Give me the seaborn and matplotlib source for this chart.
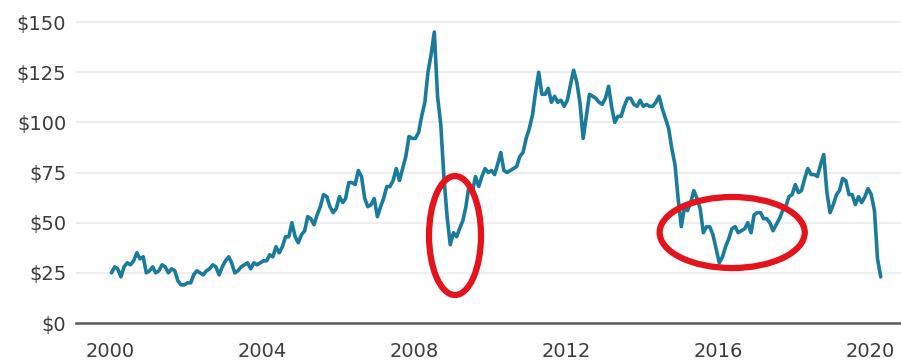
import matplotlib
matplotlib.use("Agg")
import matplotlib.pyplot as plt
import matplotlib.dates as mdates
from matplotlib.patches import Ellipse
import numpy as np
import pandas as pd
import seaborn as sns

# Brent crude, monthly, US$ per barrel (Jan 2000 - Apr 2020)
price_usd = [
    25, 28, 27, 23, 28, 30, 29, 31, 35, 32, 33, 25,      # 2000
    26, 28, 25, 26, 29, 28, 25, 27, 26, 21, 19, 19,      # 2001
    20, 20, 24, 26, 25, 24, 26, 27, 29, 28, 24, 28,      # 2002
    31, 33, 30, 25, 26, 28, 29, 30, 27, 30, 29, 30,      # 2003
    31, 31, 34, 33, 38, 35, 38, 43, 43, 50, 43, 40,      # 2004
    44, 46, 53, 52, 49, 54, 58, 64, 63, 58, 55, 57,      # 2005
    63, 60, 62, 70, 70, 69, 76, 73, 62, 58, 59, 62,      # 2006
    53, 58, 62, 68, 68, 71, 77, 71, 77, 83, 93, 92,      # 2007
    92, 95, 103, 110, 125, 134, 145, 113, 99, 73, 53, 39,  # 2008
    45, 43, 47, 51, 58, 69, 65, 73, 68, 73, 77, 75,      # 2009
    76, 74, 79, 85, 76, 75, 76, 77, 78, 83, 85, 92,      # 2010
    97, 104, 115, 125, 114, 114, 117, 110, 113, 110, 111, 108,  # 2011
    111, 119, 126, 120, 110, 92, 103, 114, 113, 112, 110, 109,  # 2012
    112, 118, 108, 100, 103, 103, 108, 112, 112, 109, 108, 111,  # 2013
    108, 109, 108, 108, 110, 113, 107, 102, 97, 87, 79, 62,     # 2014
    48, 58, 56, 60, 66, 62, 57, 45, 48, 48, 44, 37,      # 2015
    30, 33, 38, 42, 47, 48, 45, 46, 47, 50, 45, 54,      # 2016
    55, 55, 52, 52, 50, 46, 49, 52, 56, 58, 63, 64,      # 2017
    69, 65, 66, 72, 77, 74, 74, 73, 79, 84, 65, 55,      # 2018
    59, 64, 66, 72, 71, 64, 64, 59, 63, 60, 63, 67,      # 2019
    64, 56, 32, 23,                                      # 2020
]
month_dates = pd.date_range("2000-01-01", periods=len(price_usd), freq="MS") + pd.Timedelta(days=14)

year_ticks = [2000, 2004, 2008, 2012, 2016, 2020]
price_ticks = [0, 25, 50, 75, 100, 125, 150]
price_labels = ["$0", "$25", "$50", "$75", "$100", "$125", "$150"]

# highlighted troughs: (centre date, centre price, width in days, height in $)
highlights = [
    ("2009-01-30", 43.6, 500, 59.3),
    ("2016-05-18", 45.1, 1395, 35.4),
]

df = pd.DataFrame({"date": month_dates, "price": price_usd})

sns.set_style("white")
plt.rcParams["font.family"] = ["DejaVu Sans"]

fig = plt.figure(figsize=(9.01, 3.63), dpi=100)
ax = fig.add_axes([76 / 901, 40 / 363, 825 / 901, 323 / 363])

sns.lineplot(data=df, x="date", y="price", ax=ax, color="#1a7b9b",
             linewidth=2.6, zorder=3)

ax.set_ylim(0, 161)
ax.set_xlim(pd.Timestamp("1999-02-08"), pd.Timestamp("2020-10-27"))

ax.set_yticks(price_ticks)
ax.set_yticklabels(price_labels)
ax.set_xticks([pd.Timestamp(f"{y}-01-01") for y in year_ticks])
ax.set_xticklabels([str(y) for y in year_ticks])

ax.yaxis.grid(True, color="#eeeeee", linewidth=1.6, zorder=0)
ax.xaxis.grid(False)
for side in ("left", "right", "top"):
    ax.spines[side].set_visible(False)
ax.spines["bottom"].set_color("#5a5a5a")
ax.spines["bottom"].set_linewidth(1.8)

ax.tick_params(axis="both", length=0, labelsize=14, labelcolor="#3c3c3c")
ax.tick_params(axis="x", pad=14)
ax.tick_params(axis="y", pad=7)
ax.set_xlabel("")
ax.set_ylabel("")

for centre, cy, w_days, h in highlights:
    cx = mdates.date2num(pd.Timestamp(centre))
    ax.add_patch(Ellipse((cx, cy), w_days, h, fill=False,
                         edgecolor="#e5141c", linewidth=4.5, zorder=4))

fig.savefig("out.png", dpi=100)
